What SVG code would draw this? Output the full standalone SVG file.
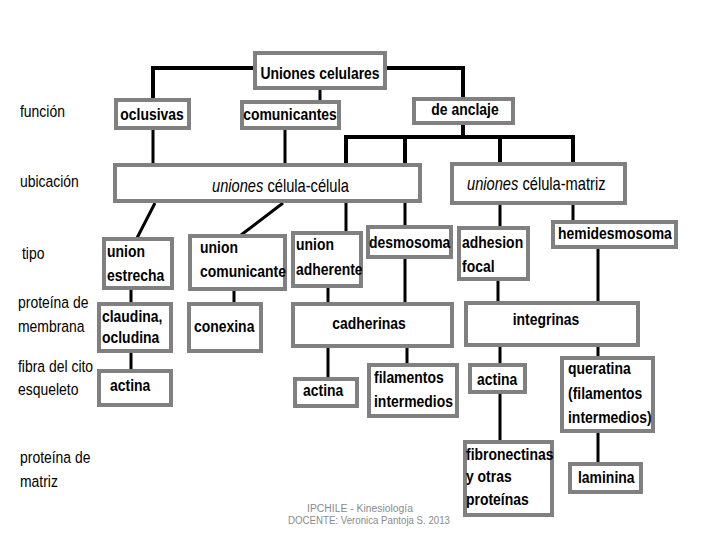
<svg xmlns="http://www.w3.org/2000/svg" width="720" height="540" viewBox="0 0 720 540">
<style>
.b{fill:#fff;stroke:#808080;stroke-width:4}
.t{font-family:"Liberation Sans",Arial,sans-serif;font-size:17px;font-weight:bold;fill:#000}
.r{font-family:"Liberation Sans",Arial,sans-serif;font-size:18px;fill:#000}
.l{font-family:"Liberation Sans",Arial,sans-serif;font-size:17px;fill:#000}
.m{text-anchor:middle}
.c{fill:none;stroke:#000;stroke-width:3}
.k{stroke-width:4}
.f{font-family:"Liberation Sans",Arial,sans-serif;font-size:10px;fill:#8a8a8a;text-anchor:middle}
</style>
<rect width="720" height="540" fill="#fff"/>
<g id="connectors">
<path class="c k" d="M153,98 V68 H463 V97"/>
<path class="c" d="M320,90 V101"/>
<path class="c k" d="M463,125 V137 M346,165 V137 H573 V162 M405,137 V165 M500,137 V162"/>
<path class="c" d="M153,130 V163 M285,129 V163"/>
<path class="c" d="M155,203 L137,238 M283,203 L241,235"/>
<path class="c" d="M346,203 V231 M405,203 V225 M500,205 V226 M573,205 V220"/>
<path class="c" d="M131,290 V302 M234,291 V302 M328,288 V302 M405,259 V302 M498,281 V301 M598,249 V301"/>
<path class="c" d="M131,353 V369 M328,348 V377 M407,348 V363 M500,347 V363 M598,347 V356"/>
<path class="c" d="M500,394 V440 M598,433 V462"/>
</g>
<g id="labels">
<text class="l" transform="translate(20,117) scale(.82 1)">función</text>
<text class="l" transform="translate(20,187) scale(.82 1)">ubicación</text>
<text class="l" transform="translate(22,259) scale(.82 1)">tipo</text>
<text class="l" transform="translate(18,308) scale(.82 1)">proteína de</text>
<text class="l" transform="translate(18,332) scale(.82 1)">membrana</text>
<text class="l" transform="translate(18,372) scale(.82 1)">fibra del cito</text>
<text class="l" transform="translate(18,395) scale(.82 1)">esqueleto</text>
<text class="l" transform="translate(20,463) scale(.82 1)">proteína de</text>
<text class="l" transform="translate(20,487) scale(.82 1)">matriz</text>
</g>
<g id="n-uniones"><rect class="b" x="255" y="53" width="130" height="35"/><text class="t m" transform="translate(320,79) scale(.82 1)">Uniones celulares</text></g>
<g id="n-oclusivas"><rect class="b" x="116" y="100" width="73" height="28"/><text class="t m" transform="translate(152,120) scale(.82 1)">oclusivas</text></g>
<g id="n-comunicantes"><rect class="b" x="242" y="102" width="97" height="26"/><text class="t m" transform="translate(290,120) scale(.82 1)">comunicantes</text></g>
<g id="n-anclaje"><rect class="b" x="414" y="99" width="99" height="24"/><text class="t m" transform="translate(465,115) scale(.82 1)">de anclaje</text></g>
<g id="n-celcel"><rect class="b" x="115" y="165" width="305" height="36"/><text class="r" transform="translate(212,192) scale(.815 1)"><tspan font-style="italic">uniones</tspan>  célula-célula</text></g>
<g id="n-celmat"><rect class="b" x="452" y="164" width="173" height="39"/><text class="r" transform="translate(467,190) scale(.815 1)"><tspan font-style="italic">uniones</tspan> célula-matriz</text></g>
<g id="n-estrecha"><rect class="b" x="104" y="239" width="68" height="49"/><text class="t" transform="translate(107,257) scale(.82 1)">union</text><text class="t" transform="translate(107,281) scale(.82 1)">estrecha</text></g>
<g id="n-ucomunicante"><rect class="b" x="190" y="236" width="95" height="53"/><text class="t" transform="translate(200,253) scale(.82 1)">union</text><text class="t" transform="translate(200,277) scale(.82 1)">comunicante</text></g>
<g id="n-adherente"><rect class="b" x="293" y="233" width="68" height="53"/><text class="t" transform="translate(296,250) scale(.82 1)">union</text><text class="t" transform="translate(296,275) scale(.82 1)">adherente</text></g>
<g id="n-desmosoma"><rect class="b" x="368" y="227" width="83" height="30"/><text class="t" transform="translate(369,248) scale(.82 1)">desmosoma</text></g>
<g id="n-focal"><rect class="b" x="459" y="228" width="69" height="51"/><text class="t" transform="translate(462,248) scale(.82 1)">adhesion</text><text class="t" transform="translate(462,272) scale(.82 1)">focal</text></g>
<g id="n-hemidesmosoma"><rect class="b" x="553" y="222" width="123" height="25"/><text class="t" transform="translate(558,239) scale(.82 1)">hemidesmosoma</text></g>
<g id="n-claudina"><rect class="b" x="99" y="304" width="72" height="47"/><text class="t" transform="translate(102,322) scale(.82 1)">claudina,</text><text class="t" transform="translate(102,343) scale(.82 1)">ocludina</text></g>
<g id="n-conexina"><rect class="b" x="189" y="304" width="72" height="47"/><text class="t" transform="translate(194,332) scale(.82 1)">conexina</text></g>
<g id="n-cadherinas"><rect class="b" x="293" y="304" width="159" height="42"/><text class="t m" transform="translate(369,329) scale(.82 1)">cadherinas</text></g>
<g id="n-integrinas"><rect class="b" x="466" y="303" width="172" height="42"/><text class="t m" transform="translate(546,325) scale(.82 1)">integrinas</text></g>
<g id="n-actina1"><rect class="b" x="99" y="371" width="72" height="34"/><text class="t" transform="translate(110,391) scale(.82 1)">actina</text></g>
<g id="n-actina2"><rect class="b" x="295" y="379" width="62" height="27"/><text class="t" transform="translate(303,396) scale(.82 1)">actina</text></g>
<g id="n-filamentos"><rect class="b" x="369" y="365" width="88" height="51"/><text class="t" transform="translate(374,383) scale(.82 1)">filamentos</text><text class="t" transform="translate(374,407) scale(.82 1)">intermedios</text></g>
<g id="n-actina3"><rect class="b" x="470" y="365" width="55" height="27"/><text class="t" transform="translate(477,385) scale(.82 1)">actina</text></g>
<g id="n-queratina"><rect class="b" x="562" y="358" width="91" height="73"/><text class="t" transform="translate(568,374) scale(.82 1)">queratina</text><text class="t" transform="translate(568,399) scale(.82 1)">(filamentos</text><text class="t" transform="translate(568,423) scale(.82 1)">intermedios)</text></g>
<g id="n-fibronectinas"><rect class="b" x="465" y="442" width="87" height="73"/><text class="t" transform="translate(466,460) scale(.82 1)">fibronectinas</text><text class="t" transform="translate(466,482) scale(.82 1)">y otras</text><text class="t" transform="translate(466,505) scale(.82 1)">proteínas</text></g>
<g id="n-laminina"><rect class="b" x="570" y="464" width="71" height="28"/><text class="t" transform="translate(578,483) scale(.82 1)">laminina</text></g>
<g id="footer">
<text class="f" x="360" y="512" textLength="106" lengthAdjust="spacingAndGlyphs">IPCHILE  - Kinesiología</text>
<text class="f" x="369" y="524" textLength="162" lengthAdjust="spacingAndGlyphs">DOCENTE:  Veronica Pantoja S. 2013</text>
</g>
</svg>
